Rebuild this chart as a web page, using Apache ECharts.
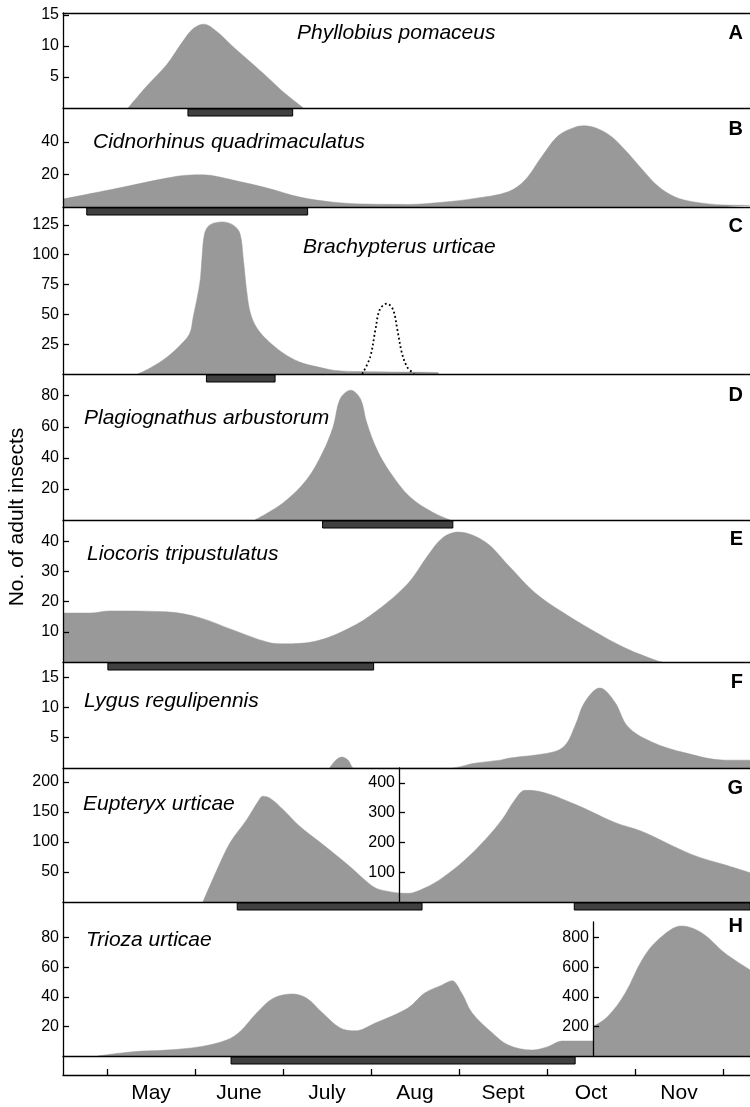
<!DOCTYPE html>
<html>
<head>
<meta charset="utf-8">
<title>Seasonal abundance of adult insects on nettle</title>
<script src="https://cdn.jsdelivr.net/npm/echarts@6/dist/echarts.min.js"></script>
<style>
html, body { margin: 0; padding: 0; background: #fff; }
#chart { width: 750px; height: 1107px; }
</style>
</head>
<body>
<div id="chart"></div>
<script>
// x values are in months: 0 = 1 May, 1 = 1 June, ... 7 = 1 December
const MONTHS = ['May', 'June', 'July', 'Aug', 'Sept', 'Oct', 'Nov'];
const MONTH_TICKS = [0, 1, 2, 3, 4, 5, 6, 7];
const MONTH_CENTERS = [0.5, 1.5, 2.5, 3.5, 4.5, 5.5, 6.5];

// Y tick labels per panel
const ticksA = [5, 10, 15];
const ticksB = [20, 40];
const ticksC = [25, 50, 75, 100, 125];
const ticksD = [20, 40, 60, 80];
const ticksE = [10, 20, 30, 40];
const ticksF = [5, 10, 15];
const ticksG = [50, 100, 150, 200];
const ticksG2 = [100, 200, 300, 400];
const ticksH = [20, 40, 60, 80];
const ticksH2 = [200, 400, 600, 800];

// Abundance curves: [month, no. of adults]
const phyllobiusPomaceus = [[0.24,0],[0.45,3.5],[0.68,7],[0.86,10.7],[0.98,12.8],[1.10,13.5],[1.25,12.3],[1.43,9.9],[1.63,7.4],[1.82,5.0],[2.01,2.5],[2.16,0.8],[2.23,0]];
const cidnorhinus = [[-0.5,4.9],[0.09,11.2],[0.68,17.8],[0.91,19.6],[1.09,19.8],[1.25,18.8],[1.43,16.6],[1.82,11.7],[2.19,6.1],[2.57,3.0],[2.95,1.8],[3.42,1.6],[3.81,2.9],[4.18,5.3],[4.56,9.4],[4.75,16.6],[4.94,31],[5.13,44],[5.32,49.2],[5.43,50],[5.69,45],[5.89,35],[6.08,23.3],[6.26,12.9],[6.45,6.3],[6.65,3.3],[7.02,1.2],[7.31,1.0]];
const brachypterus = [[0.35,0],[0.49,5],[0.68,14],[0.83,24],[0.94,34],[0.98,48],[1.02,62],[1.06,79],[1.08,98],[1.11,118],[1.17,125],[1.31,127.5],[1.43,125],[1.51,118],[1.55,95.5],[1.59,68],[1.63,51],[1.70,39],[1.82,28.5],[2.0,17.6],[2.19,10],[2.39,6],[2.59,3],[2.88,2],[3.33,1.6],[3.76,1.2],[3.77,0]];
const brachypterusLate = [[2.90,0],[2.99,14],[3.05,37],[3.10,54],[3.18,59],[3.25,54],[3.30,37],[3.35,18],[3.41,6],[3.49,0]];
const plagiognathus = [[1.68,0],[2.0,11],[2.27,26],[2.45,43.4],[2.57,60],[2.65,78],[2.77,83.6],[2.88,78],[2.95,63],[3.07,45],[3.22,30.5],[3.44,15],[3.70,5],[3.90,0]];
const liocoris = [[-0.5,16.2],[-0.19,16.2],[0.03,16.9],[0.68,16.6],[1.06,14.6],[1.43,10.6],[1.82,6.6],[2.0,6],[2.39,7],[2.76,11.3],[3.05,16.6],[3.42,26],[3.65,35.4],[3.81,41],[3.99,43],[4.30,39.7],[4.56,32],[4.86,23],[5.17,16.6],[5.51,10.6],[5.89,4.6],[6.26,0.3],[6.31,0]];
const lygus = [[2.53,0],[2.60,1.3],[2.67,1.8],[2.74,1.3],[2.81,0],[3.90,0],[4.18,0.8],[4.47,1.3],[4.56,1.6],[5.06,2.6],[5.21,3.8],[5.32,7],[5.43,10.9],[5.60,13.2],[5.77,10.9],[5.92,6.8],[6.19,4.3],[6.57,2.5],[7.02,1.3],[7.31,1.3]];
const eupteryxFirst = [[1.09,0],[1.25,53.7],[1.40,99],[1.59,137.5],[1.72,168],[1.77,176],[1.86,172],[2.0,154],[2.19,126],[2.38,104],[2.57,82],[2.76,59],[2.95,34],[3.05,23.5],[3.18,18],[3.318,15]];
const eupteryxSecond = [[3.318,30],[3.42,29],[3.61,47],[3.81,81],[4.07,142],[4.30,210],[4.49,277],[4.64,345],[4.75,375],[4.90,372],[5.32,328],[5.77,267],[6.08,237],[6.65,159],[7.02,125],[7.31,98]];
const trioza = [[-0.11,0],[0.30,2.9],[0.68,4],[1.06,6.3],[1.36,10.8],[1.51,16.4],[1.70,29],[1.89,39],[2.11,41.9],[2.27,39],[2.45,29],[2.65,18.9],[2.82,17],[3.05,22.3],[3.42,32.4],[3.61,42.5],[3.81,48],[3.92,50.8],[4.03,42.5],[4.15,29],[4.38,15.5],[4.56,7.4],[4.83,4],[5.01,6.3],[5.17,10.1],[5.523,10.1]];
const triozaSecond = [[5.523,198],[5.69,266],[5.89,426],[6.08,649],[6.26,784],[6.53,878],[6.76,831],[7.02,696],[7.31,581]];

// Months at which panels G and H switch to their second count scale
const G_SPLIT = 3.318;
const H_SPLIT = 5.523;

// Periods of activity shown as dark bars: [start month, end month]
const phyllobiusActive = [[0.92, 2.11]];
const cidnorhinusActive = [[-0.23, 2.28]];
const brachypterusActive = [[1.13, 1.91]];
const plagiognathusActive = [[2.45, 3.93]];
const liocorisActive = [[0.01, 3.03]];
const lygusActive = [];
const eupteryxActive = [[1.48, 3.58], [5.31, 7.31]];
const triozaActive = [[1.41, 5.32]];

const FONT = '"Liberation Sans", Arial, Helvetica, sans-serif';
const INK = '#000000';
const AREA = '#999999';
const BAR = '#404040';
const X_MIN = -0.5, X_MAX = 7.307;
const PLOT_LEFT = 63, PLOT_RIGHT = 750;
const PLOT_W = PLOT_RIGHT - PLOT_LEFT;
const pxAt = m => PLOT_LEFT + (m - X_MIN) / (X_MAX - X_MIN) * PLOT_W;

const panels = [
  { letter: 'A', name: 'Phyllobius pomaceus', top: 13, height: 95, max: 15.3, ticks: ticksA, data: phyllobiusPomaceus, active: phyllobiusActive, nameAt: [297, 33], letterY: 33 },
  { letter: 'B', name: 'Cidnorhinus quadrimaculatus', top: 108, height: 99, max: 61, ticks: ticksB, data: cidnorhinus, active: cidnorhinusActive, nameAt: [93, 142], letterY: 129 },
  { letter: 'C', name: 'Brachypterus urticae', top: 207, height: 167, max: 140, ticks: ticksC, data: brachypterus, active: brachypterusActive, nameAt: [303, 247], letterY: 226 },
  { letter: 'D', name: 'Plagiognathus arbustorum', top: 374, height: 146, max: 94, ticks: ticksD, data: plagiognathus, active: plagiognathusActive, nameAt: [84, 418], letterY: 395 },
  { letter: 'E', name: 'Liocoris tripustulatus', top: 520, height: 142, max: 47, ticks: ticksE, data: liocoris, active: liocorisActive, nameAt: [87, 554], letterY: 539 },
  { letter: 'F', name: 'Lygus regulipennis', top: 662, height: 106, max: 17.5, ticks: ticksF, data: lygus, active: lygusActive, nameAt: [84, 701], letterY: 682 },
  { letter: 'G', name: 'Eupteryx urticae', top: 768, height: 134, max: 223, ticks: ticksG, data: eupteryxFirst, active: eupteryxActive, nameAt: [83, 804], letterY: 788 },
  { letter: 'H', name: 'Trioza urticae', top: 902, height: 154, max: 104, ticks: ticksH, data: trioza, active: triozaActive, nameAt: [86, 940], letterY: 926 }
];

const lineStyle = { color: INK, width: 1.3 };

function makeGrid(left, top, width, height) {
  return { left, top, width, height, outerBoundsMode: 'none', containLabel: false };
}

function makeX(gridIndex, extra) {
  return Object.assign({
    type: 'value', gridIndex, min: X_MIN, max: X_MAX,
    axisLine: { show: true, onZero: false, lineStyle },
    axisTick: { show: false }, axisLabel: { show: false },
    splitLine: { show: false }, z: 3
  }, extra || {});
}

function makeY(gridIndex, max, ticks, extra) {
  return Object.assign({
    type: 'value', gridIndex, min: 0, max, position: 'left',
    axisLine: { show: true, onZero: false, lineStyle },
    axisTick: { show: ticks.length > 0, inside: true, length: 6, customValues: ticks, lineStyle },
    axisLabel: { show: ticks.length > 0, customValues: ticks, fontSize: 16, color: INK, margin: 4, fontFamily: FONT },
    splitLine: { show: false }, z: 3
  }, extra || {});
}

function areaSeries(xi, yi, data) {
  return {
    type: 'line', xAxisIndex: xi, yAxisIndex: yi, data,
    smooth: 0.35, symbol: 'none', silent: true,
    lineStyle: { color: AREA, width: 0.5 },
    areaStyle: { color: AREA, opacity: 1 },
    z: 2
  };
}

function barSeries(xi, yi, spans) {
  return {
    type: 'custom', xAxisIndex: xi, yAxisIndex: yi,
    data: spans.map(s => [s[0], s[1], 0]),
    encode: { x: [0, 1], y: 2 },
    silent: true, clip: false, z: 4,
    renderItem: (params, api) => {
      const a = api.coord([api.value(0), 0]);
      const b = api.coord([api.value(1), 0]);
      return {
        type: 'rect',
        shape: { x: a[0], y: a[1] + 1, width: b[0] - a[0], height: 7 },
        style: { fill: BAR, stroke: INK, lineWidth: 1 }
      };
    }
  };
}

const grids = [], xAxes = [], yAxes = [], series = [], graphics = [];

panels.forEach((p, i) => {
  grids.push(makeGrid(PLOT_LEFT, p.top, PLOT_W, p.height));
  xAxes.push(makeX(i, { position: 'bottom' }));
  yAxes.push(makeY(i, p.max, p.ticks));
  series.push(areaSeries(i, i, p.data));
  if (p.active.length) series.push(barSeries(i, i, p.active));
  graphics.push({
    type: 'text', x: p.nameAt[0], y: p.nameAt[1], z: 10,
    style: { text: p.name, font: 'italic 21px ' + FONT, fill: INK, textVerticalAlign: 'middle', verticalAlign: 'middle' }
  });
  graphics.push({
    type: 'text', x: 743, y: p.letterY, z: 10,
    style: { text: p.letter, font: 'bold 20px ' + FONT, fill: INK, textAlign: 'right', align: 'right', textVerticalAlign: 'middle', verticalAlign: 'middle' }
  });
});

// top border of panel A
xAxes.push(makeX(0, { position: 'top' }));                     // x 8

// panel G: second count scale starting mid-season
yAxes.push(makeY(6, 450, ticksG2, { offset: -(pxAt(G_SPLIT) - PLOT_LEFT) })); // y 8
series.push(areaSeries(6, 8, eupteryxSecond));

// panel H: second count scale on its own inset
const hLeft = pxAt(H_SPLIT);
grids.push(makeGrid(hLeft, 922, PLOT_RIGHT - hLeft, 134));     // grid 8
xAxes.push(makeX(8, { min: H_SPLIT, axisLine: { show: false } })); // x 9
yAxes.push(makeY(8, 905, ticksH2));                             // y 9
series.push(areaSeries(9, 9, triozaSecond));

// second generation of Brachypterus (dotted)
series.push({
  type: 'line', xAxisIndex: 2, yAxisIndex: 2, data: brachypterusLate,
  smooth: 0.35, symbol: 'none', silent: true,
  lineStyle: { color: INK, width: 1.8, type: [1.8, 2.6] }, z: 5
});

// shared month axis
grids.push(makeGrid(PLOT_LEFT, 1056, PLOT_W, 19));              // grid 9
xAxes.push(makeX(9, {                                           // x 10
  position: 'bottom',
  axisTick: { show: true, inside: true, length: 6, customValues: MONTH_TICKS, lineStyle },
  axisLabel: {
    show: true, customValues: MONTH_CENTERS, fontSize: 21, color: INK, margin: 8, fontFamily: FONT,
    formatter: v => MONTHS[Math.floor(v)]
  }
}));
yAxes.push(makeY(9, 1, []));                                    // y 10

graphics.push({
  type: 'text', x: 17, y: 517, rotation: Math.PI / 2, z: 10,
  style: { text: 'No. of adult insects', font: '21px ' + FONT, fill: INK, textAlign: 'center', align: 'center', textVerticalAlign: 'middle', verticalAlign: 'middle' }
});

const chart = echarts.init(document.getElementById('chart'), null, { renderer: 'canvas' });
chart.setOption({
  animation: false,
  backgroundColor: '#ffffff',
  textStyle: { fontFamily: FONT },
  grid: grids,
  xAxis: xAxes,
  yAxis: yAxes,
  series,
  graphic: { elements: graphics }
});
</script>
</body>
</html>
